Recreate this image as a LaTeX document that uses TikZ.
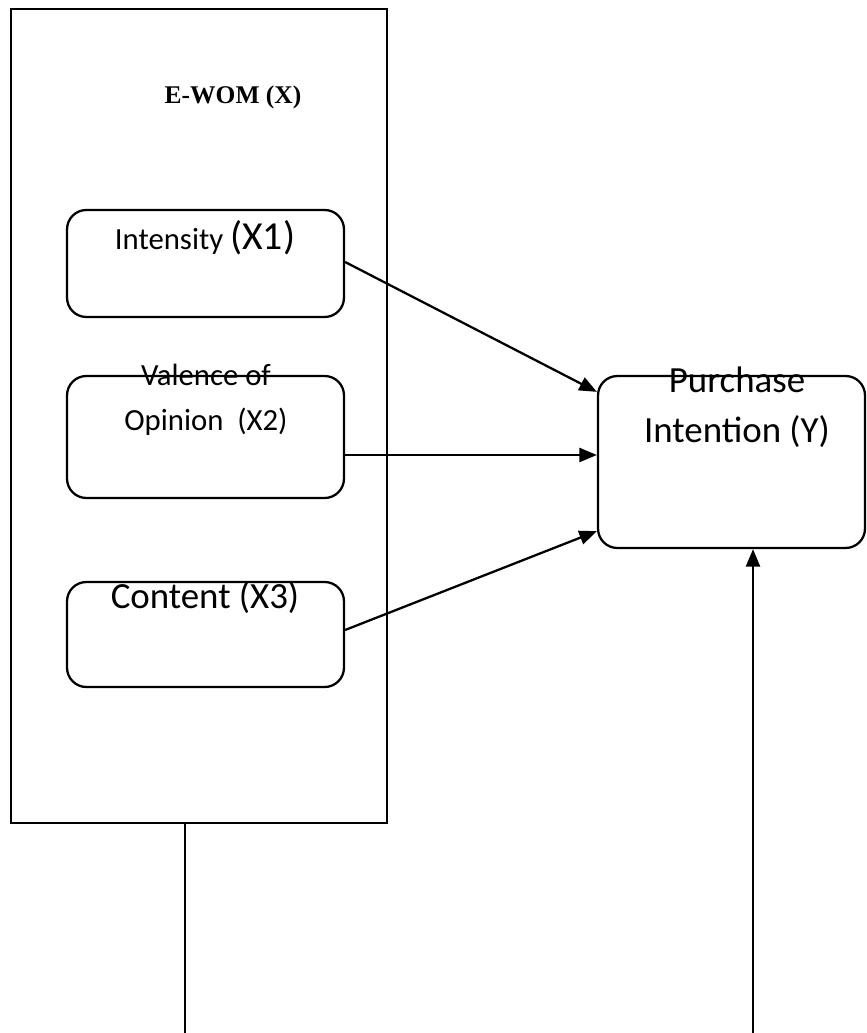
\documentclass[tikz,border=0pt]{standalone}
\usepackage{fontspec}
\setmainfont{Carlito}
\newfontfamily\timesfont{Liberation Serif}
\usetikzlibrary{arrows.meta}
\tikzset{
  dimbox/.style={draw,rounded corners=11pt,minimum width=5.54cm,inner sep=0pt},
  lbl/.style={anchor=base,inner sep=0pt}
}
\begin{document}
\begin{tikzpicture}[x=0.02cm,y=-0.02cm,line width=1.3pt,>={Triangle[length=10pt,width=8pt]}]
\useasboundingbox (0,0) rectangle (866,1033);
\node[draw,minimum width=7.52cm,minimum height=16.28cm,inner sep=0pt] (ewom) at (199,416) {};
\node[lbl,font=\timesfont\bfseries\fontsize{14.5}{16}\selectfont] (ewomtxt) at (233,104) {E-WOM (X)};
% dimensions
\node[dimbox,minimum height=2.14cm] (int) at (205.5,263.5) {};
\node[dimbox,minimum height=2.44cm] (val) at (205.5,437) {};
\node[dimbox,minimum height=2.1cm] (con) at (205.5,634.5) {};
\node[lbl] (inttxt) at (205,250) {\fontsize{17.5}{20}\selectfont Intensity \fontsize{22.6}{26}\selectfont(X1)};
\node[lbl,font=\fontsize{17.5}{20}\selectfont] (valtxt) at (206,385) {Valence of};
\node[lbl,font=\fontsize{17.5}{20}\selectfont] (opitxt) at (206,430) {Opinion\ \ (X2)};
\node[lbl,font=\fontsize{21}{24}\selectfont] (contxt) at (205,608) {Content (X3)};
% dependent variable
\node[dimbox,minimum width=5.34cm,minimum height=3.44cm] (py) at (731.5,462) {};
\node[lbl,font=\fontsize{21}{24}\selectfont] (pytxt) at (737,392) {Purchase};
\node[lbl,font=\fontsize{21}{24}\selectfont] (intxt) at (737,442) {Intention (Y)};
% arrows
\draw[->] ([yshift=0.03cm]int.east) -- ([yshift=-0.34cm]py.north west);
\draw[->] ([yshift=-0.36cm]val.east) -- ([yshift=-0.36cm]val.east -| py.west);
\draw[->] ([yshift=0.09cm]con.east) -- ([yshift=0.36cm]py.south west);
\coordinate (lb) at (185,1033);
\coordinate (rb) at (753,1033);
\draw (lb |- ewom.south) -- (lb);
\draw[->] (rb) -- (rb |- py.south);
\end{tikzpicture}
\end{document}
